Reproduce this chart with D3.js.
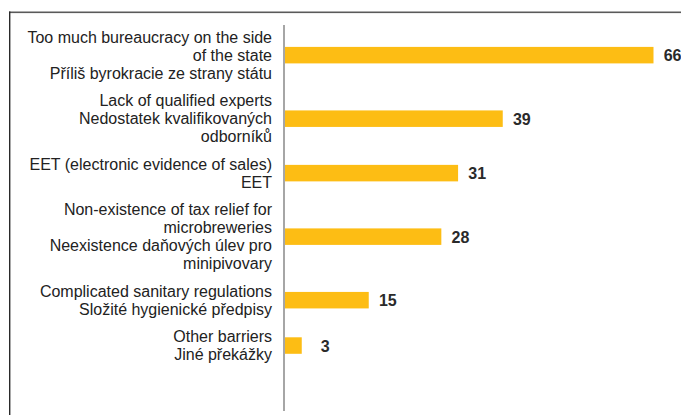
<!DOCTYPE html>
<html>
<head>
<meta charset="utf-8">
<script src="https://cdn.jsdelivr.net/npm/d3@7"></script>
<style>
  html, body { margin: 0; padding: 0; background: #fff; }
  svg { display: block; }
</style>
</head>
<body>
<svg id="chart" width="681" height="415"></svg>
<script>
// Barriers for microbreweries, share of respondents (%)
const labelLines = [
  ["Too much bureaucracy on the side", "of the state", "Příliš byrokracie ze strany státu"],
  ["Lack of qualified experts", "Nedostatek kvalifikovaných", "odborníků"],
  ["EET (electronic evidence of sales)", "EET"],
  ["Non-existence of tax relief for", "microbreweries", "Neexistence daňových úlev pro", "minipivovary"],
  ["Complicated sanitary regulations", "Složité hygienické předpisy"],
  ["Other barriers", "Jiné překážky"]
];
const values = [66, 39, 31, 28, 15, 3];

const svg = d3.select("#chart");
const W = 681, H = 415;

// Frame around the chart (runs off the right and bottom edges)
svg.append("rect")
  .attr("x", 9).attr("y", 11.5)
  .attr("width", W - 9).attr("height", 1.6)
  .attr("fill", "#5a5a5a");
svg.append("rect")
  .attr("x", 9).attr("y", 11.5)
  .attr("width", 1.4).attr("height", H - 11.5)
  .attr("fill", "#2a2a2a");

// Vertical position in "text line" units: each category takes as many
// units as its label has lines, with a gap of 1.5 units between categories.
const gapUnits = 1.5;
let cursor = 0;
const groups = labelLines.map((lines, i) => {
  const start = cursor;
  const end = start + lines.length - 1;
  cursor = end + gapUnits;
  return { lines, value: values[i], start, mid: (start + end) / 2 };
});

const y = d3.scaleLinear().domain([0, 1]).range([37, 37 + 18.15]);
const x = d3.scaleLinear().domain([0, 66]).range([285, 653.5]);
const barH = 16.5;

// Bars
svg.append("g").selectAll("rect")
  .data(groups)
  .join("rect")
  .attr("x", x(0))
  .attr("y", d => y(d.mid) - barH / 2)
  .attr("width", d => x(d.value) - x(0))
  .attr("height", barH)
  .attr("fill", "#FDBD14");

// Category axis line
svg.append("line")
  .attr("x1", 284).attr("x2", 284)
  .attr("y1", 25).attr("y2", 411)
  .attr("stroke", "#a6a6a6")
  .attr("stroke-width", 2);

// Category labels (multi-line, right aligned)
const labels = svg.append("g")
  .attr("font-family", "'Liberation Sans', Arial, Helvetica, sans-serif")
  .attr("font-size", 16)
  .attr("fill", "#222")
  .attr("text-anchor", "end");

groups.forEach(g => {
  const t = labels.append("text");
  g.lines.forEach((line, j) => {
    t.append("tspan")
      .attr("x", 272)
      .attr("y", y(g.start + j) + 5.6)
      .text(line);
  });
});

// Value labels
svg.append("g")
  .attr("font-family", "'Liberation Sans', Arial, Helvetica, sans-serif")
  .attr("font-size", 16)
  .attr("font-weight", "bold")
  .attr("fill", "#2a2a2a")
  .attr("text-anchor", "end")
  .selectAll("text")
  .data(groups)
  .join("text")
  .attr("x", d => x(d.value) + 28)
  .attr("y", d => y(d.mid) + 6)
  .text(d => d.value);
</script>
</body>
</html>
